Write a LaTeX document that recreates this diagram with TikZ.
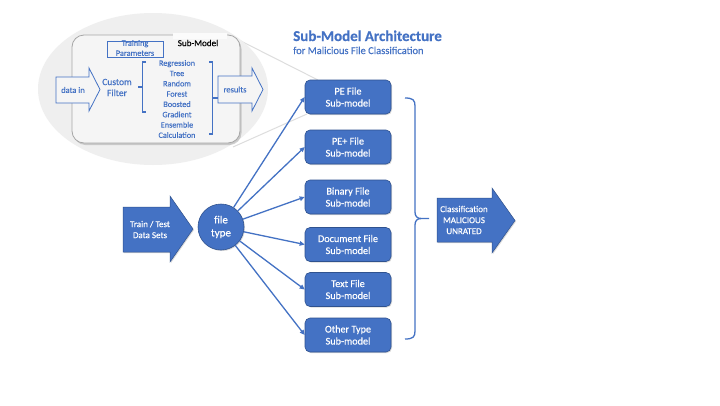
\documentclass[tikz,border=0pt]{standalone}
\usepackage{fontspec}
\setmainfont{Carlito}[FakeBold=0.35]
\usetikzlibrary{arrows.meta,shadows}
\definecolor{mblue}{HTML}{4472C4}
\definecolor{mborder}{HTML}{2F528F}
\definecolor{ellfill}{HTML}{EFEFEF}
\definecolor{rectfill}{HTML}{F5F5F5}
\definecolor{rectborder}{HTML}{A6A6A6}
\definecolor{calloutgray}{HTML}{DDDDDD}
\begin{document}
\begin{tikzpicture}[x=1pt,y=-1pt,
  submodelbox/.style={draw=mborder, line width=0.6pt, fill=mblue, rounded corners=5pt,
    minimum width=86pt, minimum height=34pt, text=white, align=center, inner sep=1pt,
    font=\fontsize{10.2}{12}\selectfont,
    drop shadow={shadow xshift=1pt,shadow yshift=-1pt,opacity=0.3}},
  conn/.style={mblue, line width=1.3pt, -{Triangle[length=5pt,width=4.5pt]}},
  bracketline/.style={mblue, line width=1.3pt},
  smallbracket/.style={mblue, line width=1.1pt},
  bluearrow/.style={draw=mborder, line width=0.5pt, fill=mblue,
    drop shadow={shadow xshift=1pt,shadow yshift=-1pt,opacity=0.3}},
  outarrow/.style={draw=mblue, line width=0.8pt, fill=rectfill},
  smalltext/.style={text=mblue, font=\fontsize{8.2}{10.3}\selectfont, align=center, inner sep=0pt},
  whitetext/.style={text=white, align=center, inner sep=0pt},
]
\useasboundingbox (0,0) rectangle (720,405);
\fill[white] (0,0) rectangle (720,405);

% callout lines
\draw[calloutgray, line width=1pt] (227,34) -- (318,80);
\draw[calloutgray, line width=1pt] (233,147) -- (307,114);

% zoom ellipse
\fill[ellfill] (153,89) ellipse [x radius=115, y radius=76];

% sub-model panel
\draw[rectborder, line width=0.8pt, fill=rectfill, rounded corners=12pt,
  drop shadow={shadow xshift=1.5pt,shadow yshift=-2pt,opacity=0.35}] (72,35) rectangle (240,143);
\node[fill=white!60!rectfill, inner sep=0pt, minimum width=54pt, minimum height=6pt] (smlbg) at (200,36) {};
\node[font=\fontsize{9.1}{10}\selectfont, text=black, inner sep=0pt] (sml) at (198,43) {Sub-Model};

% training parameters
\node[draw=mblue, line width=0.9pt, minimum width=56pt, minimum height=16pt, inner sep=0pt] (tpbox) at (135,49) {};
\node[smalltext, font=\fontsize{8.3}{10}\selectfont] (tp) at (135,48) {Training\\Parameters};

% data in arrow
\draw[outarrow] (56,77) -- (89,77) -- (89,68) -- (100,89.5) -- (89,111) -- (89,103) -- (56,103) -- cycle;
\node[smalltext, font=\fontsize{8.5}{9}\selectfont] (datain) at (73,90) {data in};

% custom filter
\node[smalltext, font=\fontsize{9.5}{11}\selectfont] (cf) at (117,87.5) {Custom\\Filter};

% left bracket
\draw[smallbracket] (146,62) -- (142.5,62) -- (142.5,112) -- (146,112);
\draw[smallbracket] (142.5,87) -- (138,87);

% methods list
\node[smalltext] (methods) at (177,99) {Regression\\Tree\\Random\\Forest\\Boosted\\Gradient\\Ensemble\\Calculation};

% right bracket
\draw[smallbracket] (209,62) -- (212.5,62) -- (212.5,134) -- (209,134);
\draw[smallbracket] (212.5,98) -- (218,98);

% results arrow
\draw[outarrow] (218,76) -- (252,76) -- (252,68) -- (263,89.5) -- (252,111) -- (252,103) -- (218,103) -- cycle;
\node[smalltext, font=\fontsize{8.5}{9}\selectfont] (results) at (235,89.5) {results};

% title
\node[anchor=base west, text=mblue, font=\bfseries\fontsize{15}{17}\selectfont, inner sep=0pt] (title) at (293,41) {Sub-Model Architecture};
\node[anchor=base west, text=mblue, font=\fontsize{10.5}{12}\selectfont, inner sep=0pt] (subtitle) at (293,54) {for Malicious File Classification};

% train/test arrow
\draw[bluearrow] (123,207) -- (170,207) -- (170,196) -- (193,229) -- (170,262) -- (170,252) -- (123,252) -- cycle;
\node[whitetext, font=\fontsize{9}{11}\selectfont] (train) at (150,229.5) {Train / Test\\Data Sets};

% file type circle
\node[circle, draw=mborder, line width=0.6pt, fill=mblue, minimum size=46pt, inner sep=0pt,
  text=white, align=center, font=\fontsize{11}{13}\selectfont,
  drop shadow={shadow xshift=1pt,shadow yshift=-1pt,opacity=0.3}] (ft) at (221,227) {file\\type};

% sub-model boxes
\node[submodelbox] (pe) at (348,97) {PE File\\Sub-model};
\node[submodelbox] (peplus) at (348,147) {PE+ File\\Sub-model};
\node[submodelbox] (bin) at (348,197) {Binary File\\Sub-model};
\node[submodelbox] (doc) at (348,244.5) {Document File\\Sub-model};
\node[submodelbox] (txt) at (348,289.5) {Text File\\Sub-model};
\node[submodelbox] (oth) at (348,335) {Other Type\\Sub-model};

% connectors
\foreach \b in {pe,peplus,bin,doc,txt,oth}
  \draw[conn] (ft) -- (\b.west);

% big bracket
\draw[bracketline] (405,98) .. controls (413,98) and (415,100) .. (415,106) -- (415,212)
  .. controls (415,216) and (417,218.5) .. (421,218.5) -- (429,218.5);
\draw[bracketline] (421,218.5) .. controls (417,218.5) and (415,221) .. (415,225) -- (415,331)
  .. controls (415,337) and (413,339) .. (405,339);

% classification arrow
\draw[bluearrow] (437,198) -- (492,198) -- (492,188) -- (515,220.5) -- (492,253) -- (492,242) -- (437,242) -- cycle;
\node[whitetext, font=\fontsize{9}{11}\selectfont] (cls) at (464,220) {Classification\\MALICIOUS\\UNRATED};
\end{tikzpicture}
\end{document}
